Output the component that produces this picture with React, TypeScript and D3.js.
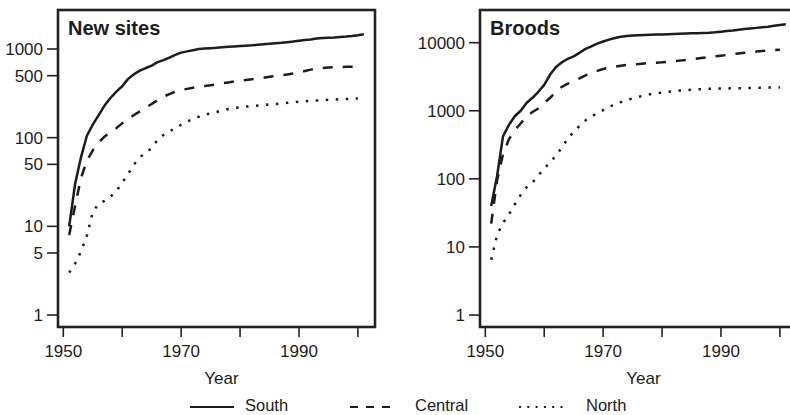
import { scaleLinear, scaleLog, line } from 'd3'

// Annual cumulative counts (log scale), 1951 onwards.
const YEARS = [
  1951, 1952, 1953, 1954, 1955, 1956, 1957, 1958, 1959, 1960,
  1961, 1962, 1963, 1964, 1965, 1966, 1967, 1968, 1969, 1970,
  1971, 1972, 1973, 1974, 1975, 1976, 1977, 1978, 1979, 1980,
  1981, 1982, 1983, 1984, 1985, 1986, 1987, 1988, 1989, 1990,
  1991, 1992, 1993, 1994, 1995, 1996, 1997, 1998, 1999, 2000,
  2001,
]

const SOUTH_SITES = [
  10, 30, 60, 105, 140, 180, 230, 280, 330, 380,
  460, 520, 570, 610, 650, 710, 750, 800, 860, 910,
  940, 970, 1000, 1010, 1020, 1030, 1045, 1060, 1070, 1080,
  1090, 1100, 1115, 1130, 1145, 1160, 1175, 1195, 1215, 1240,
  1260, 1280, 1310, 1330, 1340, 1350, 1365, 1380, 1400, 1430,
  1470,
]
const CENTRAL_SITES = [
  8, 17, 35, 55, 72, 88, 103, 115, 128, 145,
  162, 180, 198, 218, 240, 265, 290, 310, 330, 345,
  355, 365, 375, 382, 390, 400, 410, 420, 430, 440,
  448, 455, 465, 473, 485, 495, 505, 515, 530, 545,
  565, 585, 600, 612, 618, 622, 626, 630, 632, 635,
]
const NORTH_SITES = [
  3, 3.8, 5.2, 7.8, 14.5, 18, 19.4, 21.5, 25, 31,
  39, 50, 60, 68, 76, 95, 107, 118, 127, 140,
  152, 163, 172, 182, 188, 195, 203, 210, 216, 220,
  224, 227, 230, 234, 237, 240, 243, 247, 250, 254,
  257, 260, 262, 265, 267, 269, 271, 273, 275, 277,
]

const SOUTH_BROODS = [
  40, 110, 420, 617, 830, 1000, 1300, 1550, 1900, 2400,
  3400, 4400, 5150, 5800, 6300, 7100, 8100, 8800, 9700, 10400,
  11100, 11700, 12200, 12500, 12700, 12850, 12950, 13050, 13150, 13200,
  13300, 13400, 13500, 13600, 13700, 13800, 13900, 14000, 14200, 14500,
  14800, 15100, 15500, 15900, 16200, 16500, 16800, 17200, 17700, 18200,
  18700,
]
const CENTRAL_BROODS = [
  22, 95, 230, 380, 520, 650, 820, 960, 1080, 1300,
  1550, 1900, 2250, 2500, 2680, 3000, 3300, 3600, 3850, 4100,
  4300, 4450, 4600, 4700, 4780, 4850, 4950, 5020, 5080, 5150,
  5250, 5350, 5450, 5550, 5700, 5850, 6000, 6150, 6300, 6450,
  6600, 6780, 6950, 7100, 7250, 7400, 7550, 7700, 7800, 7900,
]
const NORTH_BROODS = [
  6.5, 15, 22.5, 30, 42, 58, 75, 88, 112, 142,
  175, 220, 290, 390, 490, 600, 720, 830, 910, 1020,
  1150, 1230, 1340, 1450, 1520, 1600, 1680, 1750, 1800, 1850,
  1900, 1940, 1980, 2010, 2040, 2060, 2080, 2100, 2110, 2120,
  2130, 2135, 2140, 2150, 2160, 2170, 2180, 2190, 2195, 2200,
]

const REGIONS = ['South', 'Central', 'North']
const X_TICKS = [1950, 1960, 1970, 1980, 1990, 2000]
const X_LABELS = [1950, 1970, 1990]
const SITES_TICKS = [1, 5, 10, 50, 100, 500, 1000]
const BROODS_TICKS = [1, 10, 100, 1000, 10000]

const W = 790
const H = 415
const PANEL_W = 317
const TOP = 10
const BOTTOM = 327
const INK = '#1c1c1c'
const FONT = '"Liberation Sans", Arial, Helvetica, sans-serif'

const DASH: Record<string, string | undefined> = {
  South: undefined,
  Central: '10 10',
  North: '2.5 7.5',
}
const LEGEND_DASH: Record<string, string | undefined> = {
  South: undefined,
  Central: '8 8',
  North: '2 6.3',
}

type PanelProps = {
  left: number
  title: string
  series: number[][]
  yDomain: [number, number]
  yTicks: number[]
}

function Panel({ left, title, series, yDomain, yTicks }: PanelProps) {
  const x = scaleLinear().domain([1949.1, 2002.9]).range([left, left + PANEL_W])
  const y = scaleLog().domain(yDomain).range([BOTTOM, TOP])
  const path = line<number>()
    .x((_, i) => x(YEARS[i]))
    .y((d) => y(d))

  return (
    <g>
      {series.map((vals, i) => (
        <path
          key={REGIONS[i]}
          d={path(vals) ?? ''}
          fill="none"
          stroke={INK}
          strokeWidth={2.5}
          strokeDasharray={DASH[REGIONS[i]]}
          strokeLinejoin="round"
        />
      ))}
      <rect
        x={left}
        y={TOP}
        width={PANEL_W}
        height={BOTTOM - TOP}
        fill="none"
        stroke="#222"
        strokeWidth={2.6}
      />
      {yTicks.map((t) => (
        <g key={t}>
          <line x1={left - 11} x2={left} y1={y(t)} y2={y(t)} stroke="#222" strokeWidth={1.6} />
          <text
            x={left - 15}
            y={y(t)}
            dy="0.36em"
            textAnchor="end"
            fontSize={17}
            fill={INK}
          >
            {t}
          </text>
        </g>
      ))}
      {X_TICKS.map((t) => (
        <line key={t} x1={x(t)} x2={x(t)} y1={BOTTOM} y2={BOTTOM + 10} stroke="#222" strokeWidth={1.6} />
      ))}
      {X_LABELS.map((t) => (
        <text key={t} x={x(t)} y={357} textAnchor="middle" fontSize={17} fill={INK}>
          {t}
        </text>
      ))}
      <text x={left + PANEL_W / 2 + 5} y={384} textAnchor="middle" fontSize={17} fill={INK}>
        Year
      </text>
      <text x={left + 10} y={35} fontSize={20} fontWeight="bold" fill={INK}>
        {title}
      </text>
    </g>
  )
}

const LEGEND_X = [190, 350, 519]
const LEGEND_TEXT_X = [245, 415, 586]

export default function App() {
  return (
    <div style={{ position: 'absolute', left: 0, top: 0 }}>
      <svg width={W} height={H} viewBox={`0 0 ${W} ${H}`} style={{ display: 'block', fontFamily: FONT }}>
        <rect width={W} height={H} fill="#fff" />
        <Panel
          left={58}
          title="New sites"
          series={[SOUTH_SITES, CENTRAL_SITES, NORTH_SITES]}
          yDomain={[0.732, 2753]}
          yTicks={SITES_TICKS}
        />
        <Panel
          left={480}
          title="Broods"
          series={[SOUTH_BROODS, CENTRAL_BROODS, NORTH_BROODS]}
          yDomain={[0.667, 30200]}
          yTicks={BROODS_TICKS}
        />
        {REGIONS.map((r, i) => (
          <g key={r}>
            <line
              x1={LEGEND_X[i]}
              x2={LEGEND_X[i] + 44}
              y1={407}
              y2={407}
              stroke={INK}
              strokeWidth={2}
              strokeDasharray={LEGEND_DASH[r]}
            />
            <text x={LEGEND_TEXT_X[i]} y={411} fontSize={16.5} fill={INK}>
              {r}
            </text>
          </g>
        ))}
      </svg>
    </div>
  )
}
